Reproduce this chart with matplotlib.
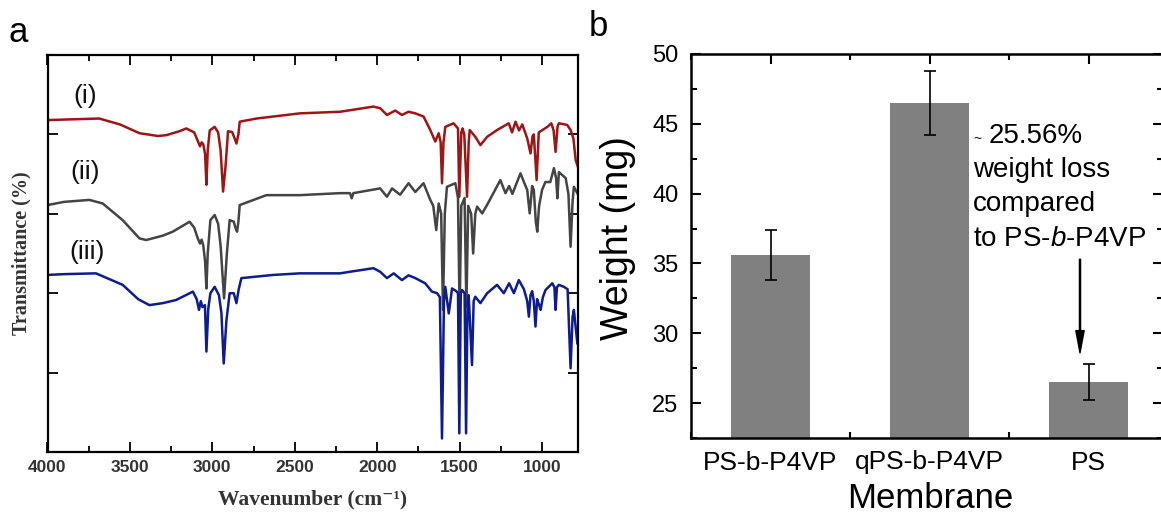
import matplotlib
matplotlib.use('Agg')
import matplotlib.pyplot as plt
from matplotlib.ticker import MultipleLocator

# ---- panel a: FTIR spectra ----
wn_i = [4000, 3850, 3686, 3560, 3442, 3330, 3280, 3200, 3158, 3110, 3090, 3075, 3065, 3055, 3044,
        3036, 3028, 3016, 2986, 2965, 2950, 2935, 2920, 2905, 2880, 2865, 2854, 2842, 2834, 2732,
        2469, 2226, 2023, 1982, 1941, 1891, 1850, 1810, 1769, 1719, 1678, 1648, 1627, 1615, 1607,
        1598, 1587, 1537, 1510, 1502, 1490, 1482, 1472, 1455, 1445, 1439, 1405, 1374, 1333, 1273,
        1202, 1182, 1161, 1140, 1120, 1090, 1070, 1058, 1050, 1033, 1020, 968, 944, 930, 918,
        906, 898, 848, 827, 810, 796, 784]
tr_i = [83.6, 83.8, 84.0, 82.5, 80.3, 79.6, 79.8, 80.8, 81.5, 80.5, 78.5, 77.0, 78.0, 77.5, 75.0,
        67.3, 76.0, 81.0, 81.9, 80.5, 76.0, 65.6, 72.0, 80.8, 80.6, 79.0, 77.7, 80.0, 83.2, 84.0,
        85.3, 85.7, 87.0, 86.6, 84.9, 86.0, 84.9, 85.7, 85.3, 84.5, 81.1, 78.2, 80.3, 78.0, 67.7,
        78.0, 81.9, 82.8, 81.5, 64.3, 80.5, 81.5, 80.0, 64.3, 78.0, 81.1, 79.4, 77.3, 79.4, 81.1,
        82.8, 80.5, 83.2, 81.0, 82.5, 79.0, 75.2, 79.5, 80.0, 68.5, 80.5, 81.9, 82.8, 81.0, 75.6,
        82.0, 82.8, 82.4, 81.1, 79.0, 73.5, 72.0]

wn_ii = [4000, 3900, 3746, 3665, 3544, 3442, 3401, 3300, 3240, 3138, 3110, 3090, 3075, 3065, 3055,
         3044, 3036, 3028, 3012, 2986, 2965, 2950, 2929, 2912, 2895, 2870, 2860, 2850, 2842, 2834,
         2672, 2469, 2226, 2165, 2155, 2145, 1982, 1941, 1910, 1861, 1810, 1769, 1719, 1678, 1660,
         1642, 1627, 1612, 1601, 1590, 1577, 1526, 1510, 1500, 1490, 1470, 1459, 1448, 1430, 1418,
         1405, 1394, 1363, 1330, 1253, 1222, 1200, 1180, 1131, 1110, 1090, 1075, 1060, 1050, 1038,
         1029, 1018, 1000, 980, 950, 928, 915, 907, 898, 857, 840, 827, 815, 807, 786]
tr_ii = [62.2, 63.0, 63.5, 62.6, 58.4, 53.8, 53.4, 54.5, 55.5, 58.0, 56.5, 54.0, 52.5, 53.5, 52.0,
         48.0, 41.2, 50.0, 58.4, 59.7, 57.5, 52.0, 38.7, 50.0, 58.4, 58.0, 56.5, 55.5, 58.0, 62.2,
         64.7, 64.7, 65.2, 65.2, 63.9, 65.2, 66.4, 64.3, 66.4, 64.8, 67.7, 65.5, 67.7, 63.5, 62.0,
         55.9, 62.6, 60.0, 35.8, 60.0, 66.8, 67.7, 64.0, 35.0, 62.0, 64.0, 36.6, 62.0, 60.0, 50.0,
         60.0, 61.8, 60.1, 62.5, 68.5, 65.2, 67.0, 65.0, 70.2, 68.0, 66.0, 60.1, 67.0, 66.0, 58.0,
         55.5, 62.0, 66.0, 68.0, 68.0, 71.5, 69.0, 63.9, 70.5, 69.0, 65.0, 51.7, 63.0, 66.8, 65.2]

wn_iii = [4000, 3900, 3706, 3544, 3450, 3382, 3300, 3219, 3118, 3095, 3081, 3070, 3060, 3045, 3036,
          3025, 3012, 2986, 2960, 2945, 2931, 2915, 2895, 2870, 2854, 2840, 2824, 2631, 2469, 2226,
          2165, 2023, 1982, 1941, 1900, 1850, 1810, 1769, 1709, 1668, 1637, 1620, 1607, 1595, 1587,
          1566, 1546, 1520, 1510, 1502, 1493, 1485, 1470, 1461, 1452, 1445, 1425, 1415, 1405, 1374,
          1333, 1273, 1232, 1200, 1171, 1141, 1110, 1090, 1080, 1070, 1060, 1050, 1040, 1030, 1018,
          1009, 995, 979, 938, 925, 918, 910, 898, 867, 845, 827, 815, 807, 786]
tr_iii = [44.6, 44.8, 45.0, 42.1, 38.5, 37.0, 37.5, 38.3, 40.4, 38.5, 35.8, 38.0, 36.5, 37.0, 25.3,
          36.0, 40.0, 41.6, 39.5, 35.0, 22.3, 33.0, 40.0, 40.0, 37.5, 41.0, 43.8, 44.6, 45.0, 45.0,
          45.4, 46.3, 45.4, 43.8, 45.0, 43.3, 44.5, 43.8, 42.5, 40.4, 40.0, 39.0, 3.4, 38.0, 41.6,
          34.9, 41.2, 40.5, 40.0, 4.7, 40.0, 40.8, 40.0, 4.7, 38.0, 39.5, 21.9, 38.0, 39.1, 37.5,
          40.0, 42.1, 40.0, 42.5, 40.0, 43.3, 41.0, 38.0, 34.1, 39.5, 40.5, 38.0, 31.6, 38.5, 37.0,
          35.8, 39.0, 40.8, 42.5, 41.5, 35.8, 41.5, 42.1, 41.6, 41.0, 21.1, 34.0, 35.8, 27.4]

spec_labels = ['(i)', '(ii)', '(iii)']

# ---- panel b: membrane weights ----
membranes = ['PS-b-P4VP', 'qPS-b-P4VP', 'PS']
weights = [35.6, 46.5, 26.5]
weight_err = [1.8, 2.3, 1.3]

W, H = 1161, 516
plt.rcParams['mathtext.fontset'] = 'custom'
plt.rcParams['mathtext.rm'] = 'Liberation Sans'
plt.rcParams['mathtext.it'] = 'Liberation Sans:italic'

fig = plt.figure(figsize=(W / 100, H / 100), dpi=100)


def fx(x):
    return x / W


def fy(y):
    return 1 - y / H


sans = ['Liberation Sans', 'DejaVu Sans']
serif = ['Liberation Serif', 'DejaVu Serif']

# ================= panel a =================
ax1 = fig.add_axes([fx(47.5), fy(452), (578 - 47.5) / W, (452 - 55) / H])
ax1.plot(wn_i, tr_i, color='#9e1515', lw=1.8)
ax1.plot(wn_ii, tr_ii, color='#444444', lw=1.8)
ax1.plot(wn_iii, tr_iii, color='#0d1c8f', lw=1.8)
ax1.set_xlim(4000, 782)
ax1.set_ylim(0, 100)
ax1.xaxis.set_major_locator(MultipleLocator(500))
ax1.xaxis.set_minor_locator(MultipleLocator(250))
ax1.set_yticks([20, 40, 60, 80])
ax1.set_yticklabels([])
ax1.tick_params(which='major', direction='in', top=True, right=True, length=7, width=1.3,
                labelsize=12.5, pad=6, labelcolor='#333333')
ax1.tick_params(which='minor', direction='in', top=True, right=True, length=4, width=1.3)
for lab in ax1.get_xticklabels():
    lab.set_family(sans)
    lab.set_weight('bold')
for s in ax1.spines.values():
    s.set_linewidth(1.6)

label_pos = [(85, 96), (85, 172), (87, 252)]
for t, (x, y) in zip(spec_labels, label_pos):
    fig.text(fx(x), fy(y), t, fontsize=19, family=sans, ha='center', va='center', color='#111111')

fig.text(fx(313), fy(499), 'Wavenumber (cm\u207b\u00b9)', fontsize=15.5, family=serif,
         ha='center', va='center', color='#333333', weight='bold')
fig.text(fx(21), fy(253), 'Transmittance (%)', fontsize=14.5, family=serif, rotation=90,
         ha='center', va='center', color='#333333', weight='bold')
fig.text(fx(18), fy(32), 'a', fontsize=25, family=sans, ha='center', va='center')

# ================= panel b =================
ax2 = fig.add_axes([fx(691), fy(438), (1163 - 691) / W, (438 - 54) / H])
ax2.set_axisbelow(True)
xpos = range(len(membranes))
ax2.bar(xpos, weights, width=0.5, color='#808080', zorder=2)
ax2.errorbar(xpos, weights, yerr=weight_err, fmt='none', ecolor='black', elinewidth=1.2,
             capsize=4.5, capthick=1.2, zorder=3)
ax2.set_xlim(-0.5, (1163 - 691) / 159 - 0.5)
ax2.set_ylim(22.5, 50)
ax2.set_xticks(list(xpos))
ax2.set_xticklabels(membranes)
ax2.xaxis.set_minor_locator(MultipleLocator(0.5))
ax2.yaxis.set_major_locator(MultipleLocator(5))
ax2.yaxis.set_minor_locator(MultipleLocator(2.5))
ax2.tick_params(which='major', direction='in', top=True, right=True, length=7, width=1.5, pad=9)
ax2.tick_params(which='minor', direction='in', top=True, right=True, length=4, width=1.5)
ax2.tick_params(axis='y', labelsize=17)
ax2.tick_params(axis='x', labelsize=19)
for lab in ax2.get_xticklabels() + ax2.get_yticklabels():
    lab.set_family(sans)
for s in ax2.spines.values():
    s.set_linewidth(1.8)

fig.text(fx(618), fy(238), 'Weight (mg)', fontsize=27, family=sans, rotation=90,
         ha='center', va='center')
fig.text(fx(930), fy(499), 'Membrane', fontsize=25, family=sans, ha='center', va='center')
fig.text(fx(598), fy(27), 'b', fontsize=25, family=sans, ha='center', va='center')

# annotation text
fig.text(fx(973), fy(139), '~', fontsize=10, family=sans, ha='left', va='center')
fig.text(fx(989), fy(143), '25.56%', fontsize=20, family=sans, ha='left', va='baseline')
fig.text(fx(973), fy(177), 'weight loss', fontsize=20, family=sans, ha='left', va='baseline')
fig.text(fx(973), fy(211), 'compared', fontsize=20, family=sans, ha='left', va='baseline')
fig.text(fx(973), fy(246), 'to PS-$b$-P4VP', fontsize=20, family=sans, ha='left', va='baseline')

arrow_x = (1080 - 691) / 159 - 0.5
ax2.annotate('', xy=(arrow_x, 28.6), xytext=(arrow_x, 35.3),
             arrowprops=dict(facecolor='black', edgecolor='black', width=0.8,
                             headwidth=6, headlength=16, shrink=0))

fig.savefig('out.png', dpi=100)
